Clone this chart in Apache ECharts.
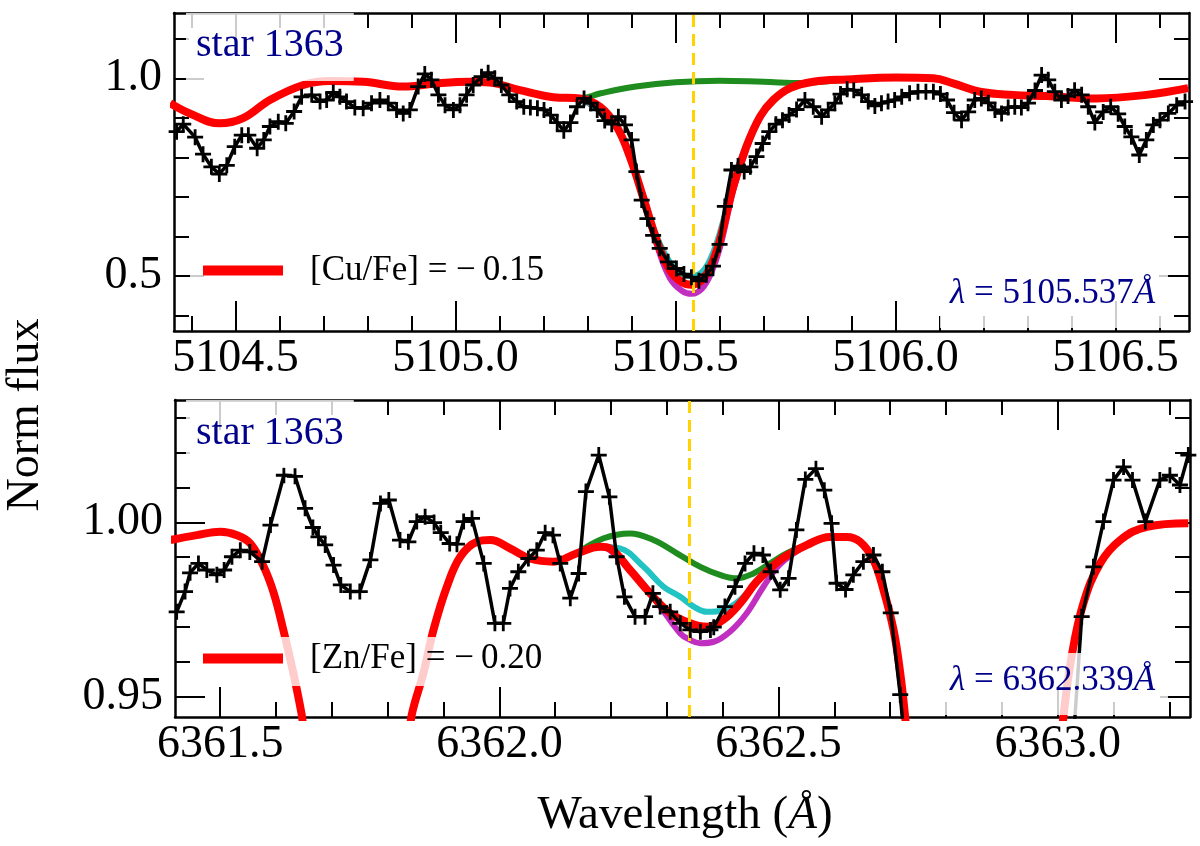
<!DOCTYPE html>
<html>
<head>
<meta charset="utf-8">
<script src="https://cdn.jsdelivr.net/npm/echarts@6.0.0/dist/echarts.min.js"></script>
<style>
  html, body { margin: 0; padding: 0; background: #fff; }
  #chart { width: 1200px; height: 846px; }
</style>
</head>
<body>
<div id="chart"></div>
<script>
var serif = '"Liberation Serif", "Times New Roman", serif';
var navy = '#00008b';

// ---- Cu line, 5105.537 A ----
var cuObs = [[5104.366,0.865],[5104.381,0.884],[5104.408,0.851],[5104.426,0.808],[5104.445,0.776],[5104.463,0.758],
  [5104.480,0.780],[5104.498,0.827],[5104.514,0.856],[5104.529,0.856],[5104.549,0.823],[5104.564,0.844],[5104.578,0.878],
  [5104.597,0.890],[5104.614,0.886],[5104.633,0.916],[5104.650,0.953],[5104.673,0.958],[5104.692,0.941],[5104.707,0.945],
  [5104.722,0.964],[5104.737,0.953],[5104.752,0.941],[5104.771,0.926],[5104.790,0.924],[5104.809,0.937],[5104.828,0.945],
  [5104.847,0.937],[5104.866,0.920],[5104.881,0.911],[5104.896,0.920],[5104.915,0.979],[5104.930,1.011],[5104.945,0.996],
  [5104.961,0.958],[5104.976,0.932],[5104.995,0.920],[5105.010,0.932],[5105.025,0.958],[5105.040,0.983],[5105.059,1.004],
  [5105.074,1.014],[5105.089,1.000],[5105.104,0.983],[5105.122,0.958],[5105.139,0.941],[5105.155,0.928],[5105.170,0.926],
  [5105.186,0.924],[5105.201,0.920],[5105.216,0.907],[5105.231,0.888],[5105.246,0.867],[5105.261,0.888],[5105.276,0.928],
  [5105.292,0.949],[5105.307,0.937],[5105.322,0.920],[5105.339,0.893],[5105.355,0.884],[5105.370,0.903],[5105.385,0.882],
  [5105.400,0.844],[5105.411,0.764],[5105.423,0.692],[5105.436,0.645],[5105.449,0.603],[5105.464,0.570],[5105.483,0.536],
  [5105.502,0.519],[5105.519,0.505],[5105.536,0.497],[5105.553,0.488],[5105.570,0.503],[5105.585,0.525],[5105.600,0.580],
  [5105.612,0.676],[5105.627,0.768],[5105.642,0.778],[5105.656,0.764],[5105.670,0.776],[5105.684,0.802],[5105.698,0.835],
  [5105.713,0.865],[5105.728,0.884],[5105.743,0.894],[5105.758,0.907],[5105.775,0.921],[5105.794,0.945],[5105.813,0.928],
  [5105.832,0.903],[5105.847,0.920],[5105.862,0.937],[5105.875,0.960],[5105.890,0.972],[5105.905,0.970],[5105.923,0.958],
  [5105.938,0.941],[5105.953,0.930],[5105.968,0.937],[5105.983,0.941],[5105.998,0.945],[5106.014,0.953],[5106.032,0.962],
  [5106.051,0.966],[5106.069,0.966],[5106.086,0.966],[5106.102,0.960],[5106.117,0.945],[5106.133,0.913],[5106.150,0.894],
  [5106.165,0.915],[5106.180,0.945],[5106.195,0.949],[5106.211,0.938],[5106.226,0.920],[5106.241,0.911],[5106.256,0.926],
  [5106.271,0.928],[5106.286,0.926],[5106.301,0.937],[5106.317,0.969],[5106.332,1.008],[5106.347,0.996],[5106.362,0.966],
  [5106.377,0.945],[5106.392,0.955],[5106.407,0.970],[5106.423,0.958],[5106.438,0.928],[5106.453,0.888],[5106.472,0.915],
  [5106.489,0.928],[5106.506,0.910],[5106.521,0.878],[5106.536,0.852],[5106.554,0.806],[5106.570,0.844],[5106.586,0.882],
  [5106.601,0.894],[5106.620,0.911],[5106.639,0.932],[5106.658,0.941]];
var cuFit = [[5104.351,0.937],[5104.396,0.911],[5104.464,0.886],[5104.517,0.899],[5104.578,0.945],[5104.654,0.983],
  [5104.714,0.993],[5104.790,0.991],[5104.881,0.979],[5104.957,0.987],[5105.032,0.991],[5105.078,0.989],[5105.146,0.970],
  [5105.222,0.952],[5105.283,0.949],[5105.328,0.928],[5105.366,0.878],[5105.396,0.802],[5105.426,0.700],[5105.457,0.591],
  [5105.487,0.515],[5105.515,0.484],[5105.537,0.478],[5105.560,0.490],[5105.580,0.525],[5105.601,0.591],[5105.631,0.726],
  [5105.661,0.827],[5105.692,0.903],[5105.722,0.945],[5105.760,0.975],[5105.813,0.991],[5105.889,0.997],[5106.002,1.002],
  [5106.086,1.000],[5106.131,0.987],[5106.192,0.966],[5106.267,0.958],[5106.343,0.955],[5106.457,0.949],[5106.570,0.958],
  [5106.665,0.975]];
var cuNone = [[5105.222,0.952],[5105.283,0.949],[5105.330,0.962],[5105.410,0.979],[5105.500,0.990],[5105.600,0.994],
  [5105.700,0.991],[5105.790,0.988],[5105.840,0.992],[5105.889,0.997]];
var cuLow = [[5105.283,0.949],[5105.366,0.878],[5105.426,0.705],[5105.457,0.600],[5105.487,0.535],[5105.515,0.505],
  [5105.537,0.500],[5105.560,0.510],[5105.580,0.545],[5105.601,0.610],[5105.631,0.735],[5105.661,0.832],[5105.692,0.905],
  [5105.722,0.946],[5105.760,0.975]];
var cuHigh = [[5105.283,0.949],[5105.366,0.876],[5105.426,0.695],[5105.457,0.580],[5105.487,0.495],[5105.515,0.462],
  [5105.537,0.455],[5105.560,0.468],[5105.580,0.505],[5105.601,0.572],[5105.631,0.716],[5105.661,0.822],[5105.692,0.900],
  [5105.722,0.944],[5105.760,0.975]];

// ---- Zn line, 6362.339 A ----
var znObs = [[6361.422,0.9743],[6361.437,0.9801],[6361.446,0.9855],[6361.461,0.9882],[6361.476,0.9863],[6361.494,0.9849],
  [6361.507,0.9863],[6361.521,0.9901],[6361.536,0.9920],[6361.553,0.9915],[6361.575,0.9887],[6361.590,0.9992],[6361.614,1.0135],
  [6361.634,1.0132],[6361.652,1.0040],[6361.666,0.9985],[6361.676,0.9958],[6361.688,0.9935],[6361.703,0.9877],[6361.716,0.9820],
  [6361.733,0.9801],[6361.750,0.9801],[6361.769,0.9892],[6361.787,1.0054],[6361.802,1.0064],[6361.822,0.9949],[6361.837,0.9944],
  [6361.852,1.0002],[6361.867,1.0016],[6361.883,0.9999],[6361.895,0.9970],[6361.911,0.9939],[6361.924,0.9937],[6361.936,1.0002],
  [6361.951,1.0011],[6361.972,0.9882],[6361.992,0.9710],[6362.007,0.9710],[6362.019,0.9810],[6362.034,0.9858],[6362.052,0.9896],
  [6362.067,0.9920],[6362.082,0.9970],[6362.096,0.9963],[6362.109,0.9882],[6362.127,0.9782],[6362.142,0.9853],[6362.155,1.0088],
  [6362.178,1.0193],[6362.197,1.0073],[6362.210,0.9901],[6362.224,0.9786],[6362.243,0.9729],[6362.261,0.9729],[6362.275,0.9796],
  [6362.288,0.9758],[6362.306,0.9743],[6362.324,0.9710],[6362.342,0.9691],[6362.360,0.9686],[6362.378,0.9691],[6362.384,0.9699],
  [6362.404,0.9758],[6362.422,0.9815],[6362.440,0.9882],[6362.456,0.9911],[6362.472,0.9906],[6362.486,0.9858],[6362.503,0.9806],
  [6362.518,0.9839],[6362.532,0.9978],[6362.548,1.0123],[6362.567,1.0154],[6362.582,1.0092],[6362.595,0.9997],[6362.604,0.9825],
  [6362.620,0.9807],[6362.634,0.9849],[6362.652,0.9887],[6362.670,0.9906],[6362.686,0.9858],[6362.701,0.9740],[6362.718,0.9505],
  [6362.735,0.9200],[6362.870,0.9000],[6363.025,0.9300],[6363.043,0.9729],[6363.064,0.9872],[6363.082,1.0002],[6363.100,1.0121],
  [6363.118,1.0159],[6363.134,1.0121],[6363.157,1.0002],[6363.183,1.0121],[6363.201,1.0135],[6363.219,1.0107],[6363.234,1.0193]];
var znFit = [[6361.411,0.9949],[6361.458,0.9963],[6361.500,0.9973],[6361.530,0.9963],[6361.554,0.9939],[6361.578,0.9872],
  [6361.596,0.9796],[6361.613,0.9691],[6361.631,0.9567],[6361.646,0.9447],[6361.655,0.9350],[6361.745,0.9000],[6361.835,0.9350],
  [6361.843,0.9447],[6361.864,0.9567],[6361.882,0.9691],[6361.906,0.9815],[6361.930,0.9901],[6361.960,0.9944],[6361.984,0.9949],
  [6362.019,0.9925],[6362.055,0.9896],[6362.097,0.9887],[6362.139,0.9911],[6362.181,0.9930],[6362.198,0.9925],[6362.234,0.9863],
  [6362.270,0.9796],[6362.306,0.9739],[6362.339,0.9712],[6362.372,0.9700],[6362.401,0.9720],[6362.431,0.9767],[6362.461,0.9830],
  [6362.503,0.9892],[6362.551,0.9935],[6362.592,0.9958],[6362.622,0.9958],[6362.646,0.9944],[6362.670,0.9892],[6362.688,0.9806],
  [6362.706,0.9691],[6362.718,0.9567],[6362.727,0.9438],[6362.735,0.9300],[6362.870,0.9000],[6363.003,0.9300],[6363.010,0.9438],
  [6363.025,0.9615],[6363.046,0.9767],[6363.076,0.9882],[6363.112,0.9949],[6363.160,0.9987],[6363.234,0.9997]];
var znNone = [[6362.139,0.9911],[6362.187,0.9954],[6362.234,0.9968],[6362.276,0.9949],[6362.318,0.9911],[6362.360,0.9872],
  [6362.395,0.9849],[6362.425,0.9839],[6362.455,0.9853],[6362.485,0.9882],[6362.515,0.9911],[6362.551,0.9935]];
var znLow = [[6362.181,0.9930],[6362.216,0.9925],[6362.258,0.9873],[6362.294,0.9815],[6362.324,0.9786],[6362.348,0.9758],
  [6362.372,0.9743],[6362.401,0.9748],[6362.431,0.9777],[6362.467,0.9839],[6362.503,0.9890],[6362.551,0.9935]];
var znHigh = [[6362.181,0.9930],[6362.198,0.9920],[6362.246,0.9844],[6362.288,0.9758],[6362.324,0.9681],[6362.342,0.9662],
  [6362.360,0.9653],[6362.384,0.9657],[6362.413,0.9686],[6362.443,0.9739],[6362.473,0.9815],[6362.503,0.9880],[6362.551,0.9935]];

var lineCenter = [5105.537, 6362.339];
var starLabel = 'star 1363';
var abundLabels = ['[Cu/Fe] = \u2212\u20090.15', '[Zn/Fe] = \u2212\u20090.20'];
var xRange = [[5104.36, 5106.667], [6361.419, 6363.237]];
var yRange = [[0.361, 1.165], [0.9441, 1.0351]];
var xMajor = [[5104.5, 5105.0, 5105.5, 5106.0, 5106.5], [6361.5, 6362.0, 6362.5, 6363.0]];
var xMinor = [[5104.4, 5104.6, 5104.7, 5104.8, 5104.9, 5105.1, 5105.2, 5105.3, 5105.4, 5105.6, 5105.7, 5105.8, 5105.9,
  5106.1, 5106.2, 5106.3, 5106.4, 5106.6],
  [6361.6, 6361.7, 6361.8, 6361.9, 6362.1, 6362.2, 6362.3, 6362.4, 6362.6, 6362.7, 6362.8, 6362.9, 6363.1, 6363.2]];
var yMajor = [[0.5, 1.0], [0.95, 1.00]];
var yMinor = [[0.4, 0.6, 0.7, 0.8, 0.9, 1.1], [0.96, 0.97, 0.98, 0.99, 1.01, 1.02, 1.03]];
var yDecimals = [1, 2];

var obsSets = [cuObs, znObs], fitSets = [cuFit, znFit], noneSets = [cuNone, znNone];
var lowSets = [cuLow, znLow], highSets = [cuHigh, znHigh];

var dom = document.getElementById('chart');
var myChart = echarts.init(dom, null, { renderer: 'canvas' });

function makeAxis(g, pos, range, ticks, len, showLabel, showLine, decimals, margin) {
  return {
    type: 'value', gridIndex: g, position: pos, min: range[0], max: range[1], scale: true,
    axisLine: { show: showLine, onZero: false, lineStyle: { color: '#000', width: 2.5 } },
    axisTick: { show: true, inside: true, length: len, customValues: ticks, lineStyle: { color: '#000', width: 2 } },
    axisLabel: {
      show: showLabel, customValues: ticks, margin: margin,
      formatter: function (v) { return Number(v).toFixed(decimals); },
      color: '#000', fontFamily: serif, fontSize: 46
    },
    splitLine: { show: false }, minorTick: { show: false }
  };
}

var xAxes = [], yAxes = [];
[0, 1].forEach(function (g) {
  xAxes.push(makeAxis(g, 'bottom', xRange[g], xMajor[g], 30, true, true, 1, 5));
  xAxes.push(makeAxis(g, 'bottom', xRange[g], xMinor[g], 15, false, false, 1, 5));
  xAxes.push(makeAxis(g, 'top', xRange[g], xMajor[g], 30, false, true, 1, 5));
  xAxes.push(makeAxis(g, 'top', xRange[g], xMinor[g], 15, false, false, 1, 5));
  yAxes.push(makeAxis(g, 'left', yRange[g], yMajor[g], 30, true, true, yDecimals[g], 12));
  yAxes.push(makeAxis(g, 'left', yRange[g], yMinor[g], 15, false, false, yDecimals[g], 12));
  yAxes.push(makeAxis(g, 'right', yRange[g], yMajor[g], 30, false, true, yDecimals[g], 12));
  yAxes.push(makeAxis(g, 'right', yRange[g], yMinor[g], 15, false, false, yDecimals[g], 12));
});

function fitSeries(name, data, g, color, width, z) {
  return {
    name: name, type: 'line', xAxisIndex: 4 * g, yAxisIndex: 4 * g, data: data,
    smooth: 0.4, symbol: 'none', showSymbol: false,
    lineStyle: { color: color, width: width }, itemStyle: { color: color },
    z: z, silent: true, animation: false
  };
}

var series = [];
[0, 1].forEach(function (g) {
  series.push(fitSeries('none' + g, noneSets[g], g, '#1e8c1e', 6, 3));
  series.push(fitSeries('high' + g, highSets[g], g, '#c02fc0', 6, 3));
  series.push(fitSeries('low' + g, lowSets[g], g, '#22c3c3', 6, 3));
  series.push(fitSeries(abundLabels[g], fitSets[g], g, '#ff0000', 8, 4));
  series.push({
    name: 'obs' + g, type: 'line', xAxisIndex: 4 * g, yAxisIndex: 4 * g, data: obsSets[g],
    symbol: 'path://M0,-10L0,10M-10,0L10,0', symbolSize: 16,
    lineStyle: { color: '#000', width: 3.5 },
    itemStyle: { color: '#000', borderColor: '#000', borderWidth: 2.8 },
    z: 5, silent: true, animation: false,
    markLine: {
      silent: true, symbol: ['none', 'none'], label: { show: false }, animation: false,
      lineStyle: { color: '#ffd200', width: 3, type: [12, 7] },
      data: [{ xAxis: lineCenter[g] }]
    }
  });
});

var boxFill = 'rgba(255,255,255,0.8)';
var option = {
  animation: false,
  backgroundColor: '#fff',
  grid: [
    { left: 174, top: 13, width: 1015, height: 318, containLabel: false, outerBoundsMode: 'none' },
    { left: 175, top: 400, width: 1015, height: 317, containLabel: false, outerBoundsMode: 'none' }
  ],
  xAxis: xAxes,
  yAxis: yAxes,
  title: [
    { text: starLabel, left: 186, top: 13, padding: [12, 10, 16, 10], backgroundColor: boxFill, z: 10,
      textStyle: { fontFamily: serif, fontSize: 40, fontWeight: 'normal', color: navy } },
    { text: starLabel, left: 186, top: 400, padding: [13, 10, 15, 10], backgroundColor: boxFill, z: 10,
      textStyle: { fontFamily: serif, fontSize: 40, fontWeight: 'normal', color: navy } },
    { text: '{i|\u03bb} = ' + lineCenter[0].toFixed(3) + '{i|\u00c5}', left: 940, top: 266, padding: [10, 13, 17, 10],
      backgroundColor: boxFill, z: 10,
      textStyle: { fontFamily: serif, fontSize: 35, fontWeight: 'normal', color: navy,
        rich: { i: { fontFamily: serif, fontSize: 35, fontStyle: 'italic', color: navy } } } },
    { text: '{i|\u03bb} = ' + lineCenter[1].toFixed(3) + '{i|\u00c5}', left: 940, top: 653, padding: [10, 13, 17, 10],
      backgroundColor: boxFill, z: 10,
      textStyle: { fontFamily: serif, fontSize: 35, fontWeight: 'normal', color: navy,
        rich: { i: { fontFamily: serif, fontSize: 35, fontStyle: 'italic', color: navy } } } }
  ],
  legend: [0, 1].map(function (g) {
    return {
      data: [abundLabels[g]], left: 190, top: [249, 637][g], orient: 'horizontal',
      icon: 'rect', itemWidth: 80, itemHeight: 10, padding: [4, 12, 10, 13],
      backgroundColor: boxFill, selectedMode: false, z: 10,
      textStyle: { fontFamily: serif, fontSize: 35, color: '#000', padding: [13, 0, 0, 22] }
    };
  }),
  graphic: [
    { type: 'text', x: 26, y: 415, rotation: Math.PI / 2, z: 10,
      style: { text: 'Norm flux', fontFamily: serif, fontSize: 46, fill: '#000', align: 'center', verticalAlign: 'middle' } },
    { type: 'text', x: 685, y: 816, z: 10,
      style: { text: 'Wavelength ({i|\u00c5})', fontFamily: serif, fontSize: 47, fill: '#000',
        align: 'center', verticalAlign: 'middle',
        rich: { i: { fontFamily: serif, fontSize: 47, fontStyle: 'italic' } } } }
  ],
  series: series
};

if (option && typeof option === 'object') {
  myChart.setOption(option, true);
}
</script>
</body>
</html>
